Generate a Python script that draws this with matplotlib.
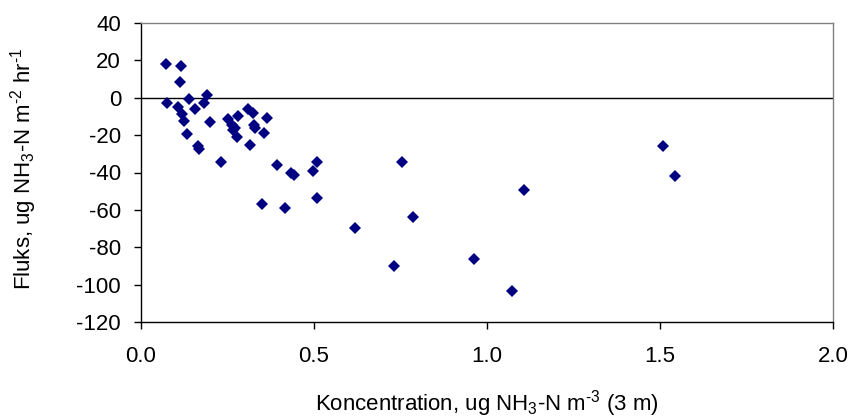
import matplotlib
matplotlib.use("Agg")
import matplotlib.pyplot as plt

plt.rcParams['font.family'] = ['Liberation Sans', 'DejaVu Sans']
plt.rcParams['mathtext.fontset'] = 'custom'
plt.rcParams['mathtext.rm'] = 'Liberation Sans'
plt.rcParams['mathtext.it'] = 'Liberation Sans'
plt.rcParams['mathtext.bf'] = 'Liberation Sans:bold'

konc = [0.074, 0.118, 0.114, 0.077, 0.141, 0.193, 0.107, 0.157, 0.184, 0.121,
        0.125, 0.201, 0.133, 0.167, 0.170, 0.232, 0.254, 0.263, 0.268, 0.280,
        0.282, 0.311, 0.326, 0.329, 0.331, 0.358, 0.364, 0.316, 0.273, 0.350,
        0.418, 0.393, 0.435, 0.444, 0.499, 0.509, 0.509, 0.619, 0.733, 0.754,
        0.788, 0.962, 1.074, 1.108, 1.508, 1.544]
fluks = [17.9, 17.0, 8.6, -2.6, -0.8, 1.5, -4.8, -6.1, -2.9, -8.8,
         -12.2, -12.8, -19.4, -25.6, -27.4, -34.2, -11.3, -14.5, -17.2, -21.2,
         -9.6, -6.0, -8.3, -14.5, -16.3, -19.0, -11.0, -25.2, -16.1, -57.0,
         -58.8, -35.9, -40.1, -41.3, -39.1, -34.2, -53.7, -69.8, -90.3, -34.5,
         -63.9, -86.4, -103.3, -49.3, -25.8, -41.8]

xticks = [0.0, 0.5, 1.0, 1.5, 2.0]
yticks = [40, 20, 0, -20, -40, -60, -80, -100, -120]

fig = plt.figure(figsize=(8.56, 4.2), dpi=100)
ax = fig.add_axes([140.5/856, 1-322/420, (833-140.5)/856, (322-23)/420])

ax.plot(konc, fluks, linestyle='none', marker='D', ms=6.2, mew=0,
        color='#000080', zorder=3)
ax.axhline(0, color='black', lw=1.0, zorder=2)

ax.set_xlim(0, 2.0)
ax.set_ylim(-120, 40)
ax.set_xticks(xticks)
ax.set_xticklabels([f"{v:.1f}" for v in xticks])
ax.set_yticks(yticks)
ax.set_yticklabels([str(v) for v in yticks])

ax.tick_params(axis='both', direction='out', length=5, width=1, labelsize=16,
               colors='black')
ax.tick_params(axis='y', pad=9)
ax.tick_params(axis='x', pad=12)

for s in ['left', 'bottom']:
    ax.spines[s].set_color('black')
    ax.spines[s].set_linewidth(1.0)
for s in ['top', 'right']:
    ax.spines[s].set_color('#808080')
    ax.spines[s].set_linewidth(1.0)

ax.set_xlabel(r'Koncentration, ug NH$_\mathregular{3}$-N m$^\text{-3}$ (3 m)', fontsize=16)
ax.set_ylabel(r'Fluks, ug NH$_\mathregular{3}$-N m$^\text{-2}$ hr$^\text{-1}$', fontsize=16)
ax.xaxis.set_label_coords(0.5, -0.222)
ax.yaxis.set_label_coords(-0.147, 0.512)

fig.savefig('out.png', dpi=100)
